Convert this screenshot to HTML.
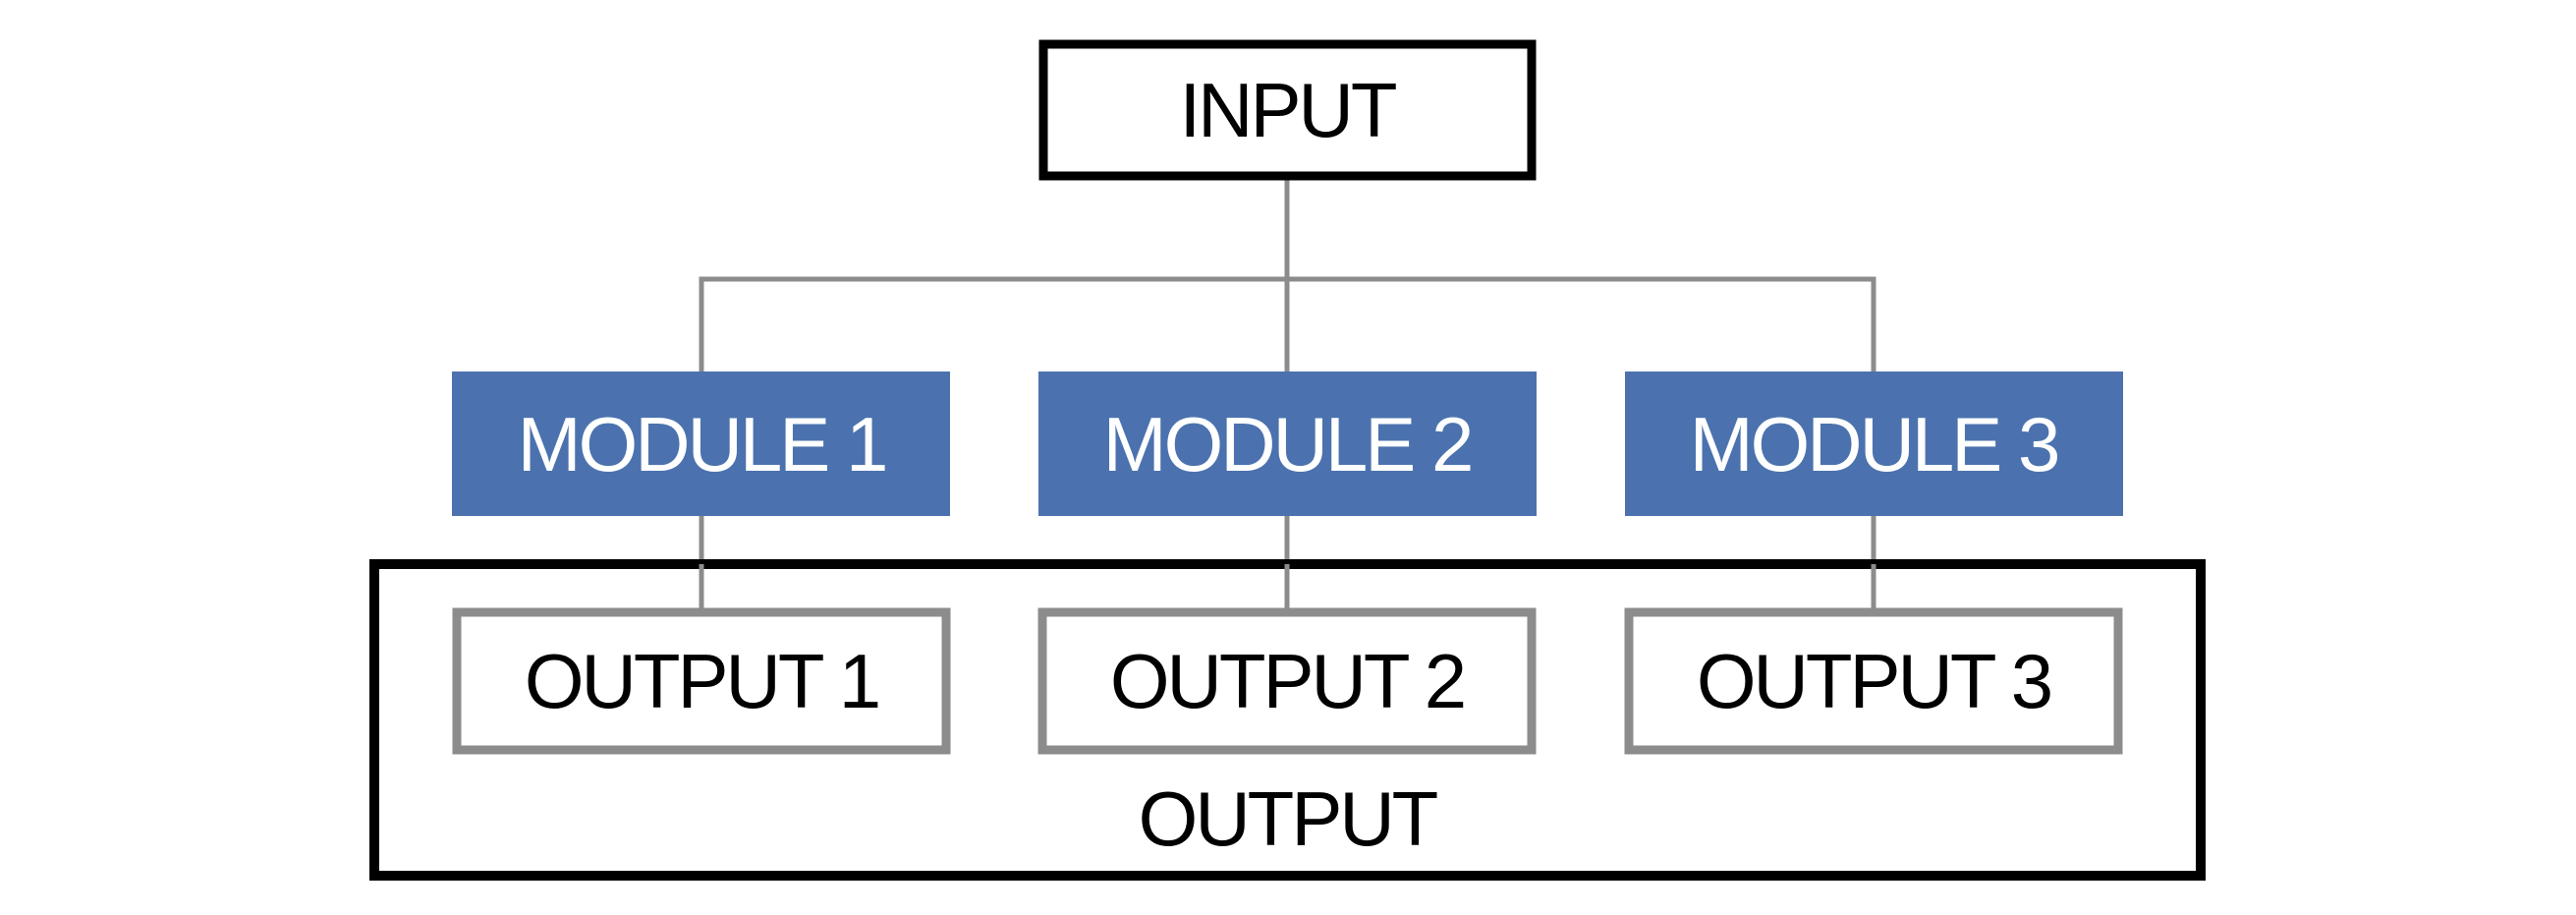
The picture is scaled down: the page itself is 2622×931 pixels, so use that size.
<!DOCTYPE html>
<html><head><meta charset="utf-8"><style>
html,body{margin:0;padding:0;background:#fff;width:2622px;height:931px;overflow:hidden}
svg text{font-family:"Liberation Sans",Arial,sans-serif;font-size:78px;text-anchor:middle;dominant-baseline:central;letter-spacing:-3px}
</style></head><body>
<svg width="2622" height="931" viewBox="0 0 2622 931" xmlns="http://www.w3.org/2000/svg">
<g stroke="#8c8c8c" stroke-width="5" fill="none">
<line x1="1310" y1="180" x2="1310" y2="378"/>
<polyline points="714,378 714,284 1907,284 1907,378"/>
<line x1="714" y1="525" x2="714" y2="622"/>
<line x1="1310" y1="525" x2="1310" y2="622"/>
<line x1="1907" y1="525" x2="1907" y2="622"/>
</g>
<rect x="1062" y="45" width="497" height="134" fill="#fff" stroke="#000" stroke-width="9"/>
<text x="1310" y="112">INPUT</text>
<g fill="#4b72ae">
<rect x="460" y="378" width="507" height="147"/>
<rect x="1057" y="378" width="507" height="147"/>
<rect x="1654" y="378" width="507" height="147"/>
</g>
<g fill="#fff">
<text x="714" y="452">MODULE 1</text>
<text x="1310" y="452">MODULE 2</text>
<text x="1907" y="452">MODULE 3</text>
</g>
<rect x="381" y="574" width="1859" height="317" fill="none" stroke="#000" stroke-width="10"/>
<g fill="none" stroke="#8c8c8c" stroke-width="9">
<rect x="465" y="623" width="498" height="140"/>
<rect x="1061" y="623" width="498" height="140"/>
<rect x="1658" y="623" width="498" height="140"/>
</g>
<g stroke="#8c8c8c" stroke-width="5">
<line x1="714" y1="574" x2="714" y2="620"/>
<line x1="1310" y1="574" x2="1310" y2="620"/>
<line x1="1907" y1="574" x2="1907" y2="620"/>
</g>
<text x="714" y="693">OUTPUT 1</text>
<text x="1310" y="693">OUTPUT 2</text>
<text x="1907" y="693">OUTPUT 3</text>
<text x="1310" y="833">OUTPUT</text>
</svg>
</body></html>
